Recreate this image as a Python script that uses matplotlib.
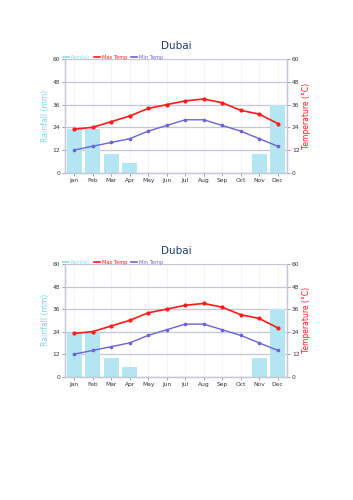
import numpy as np
import matplotlib.pyplot as plt

# Dubai climate data
months = ['Jan', 'Feb', 'Mar', 'Apr', 'May', 'Jun', 'Jul', 'Aug', 'Sep', 'Oct', 'Nov', 'Dec']
rainfall = [23, 23, 10, 5, 0, 0, 0, 0, 0, 0, 10, 36]
max_temp = [23, 24, 27, 30, 34, 36, 38, 39, 37, 33, 31, 26]
min_temp = [12, 14, 16, 18, 22, 25, 28, 28, 25, 22, 18, 14]
ticks = [0, 12, 24, 36, 48, 60]

rain_col = '#b3e5f2'
max_col = '#ff1a1a'
min_col = '#6a63d8'
navy = '#1f3b73'
tick_col = '#333344'

fig = plt.figure(figsize=(3.53, 5.0), dpi=100)


def climate_chart(rect):
    ax = fig.add_axes(rect)
    x = np.arange(len(months))
    ax.bar(x, rainfall, width=0.8, color=rain_col, edgecolor='none', zorder=2, label='Rainfall')
    ax.set_xlim(-0.5, len(months) - 0.5)
    ax.set_ylim(0, 60)
    ax.set_yticks(ticks)
    ax.set_xticks(x)
    ax.set_xticklabels(months)
    ax.tick_params(labelsize=4.3, colors='#8a93ab', labelcolor=tick_col, length=2, width=0.6, pad=1.5)
    ax.set_ylabel('Rainfall (mm)', color='#7fd3ea', fontsize=5.5, labelpad=2)
    ax.yaxis.grid(True, color='#c2c7da', linewidth=0.9, zorder=0)
    ax.xaxis.grid(True, color='#f1f1f6', linewidth=0.5, zorder=0)
    ax.set_axisbelow(True)
    ax.spines['top'].set_visible(False)
    for s in ['left', 'right', 'bottom']:
        ax.spines[s].set_color('#c4c8d6')
        ax.spines[s].set_linewidth(0.9)

    ax2 = ax.twinx()
    ax2.plot(x, max_temp, color=max_col, lw=1.2, marker='o', ms=2, zorder=3, label='Max Temp')
    ax2.plot(x, min_temp, color=min_col, lw=1.0, marker='o', ms=1.6, zorder=3, label='Min Temp')
    ax2.set_ylim(0, 60)
    ax2.set_yticks(ticks)
    ax2.tick_params(labelsize=4.3, colors='#8a93ab', labelcolor=tick_col, length=2, width=0.6, pad=1.5)
    ax2.set_ylabel('Temperature (°C)', color=max_col, fontsize=5.5, labelpad=2)
    ax2.spines['top'].set_visible(False)
    for s in ['left', 'right', 'bottom']:
        ax2.spines[s].set_color('#c4c8d6')
        ax2.spines[s].set_linewidth(0.9)

    ax.set_title('Dubai', color=navy, fontsize=7.5, pad=7.5)

    labels = ['Rainfall', 'Max Temp', 'Min Temp']
    colors = ['#8fd8ee', max_col, min_col]
    handles = [plt.Line2D([], [], color=c, lw=1.2) for c in colors]
    leg = ax.legend(handles, labels, loc='lower left', bbox_to_anchor=(-0.01, 0.99), ncol=3,
                    frameon=False, fontsize=3.6, handlelength=1.2, handletextpad=0.3,
                    columnspacing=0.9, borderpad=0, borderaxespad=0.1)
    for t, c in zip(leg.get_texts(), colors):
        t.set_color(c)


climate_chart([0.184, 0.6546, 0.629, 0.2268])
climate_chart([0.184, 0.2466, 0.629, 0.2254])

plt.savefig('out.png', dpi=100)
